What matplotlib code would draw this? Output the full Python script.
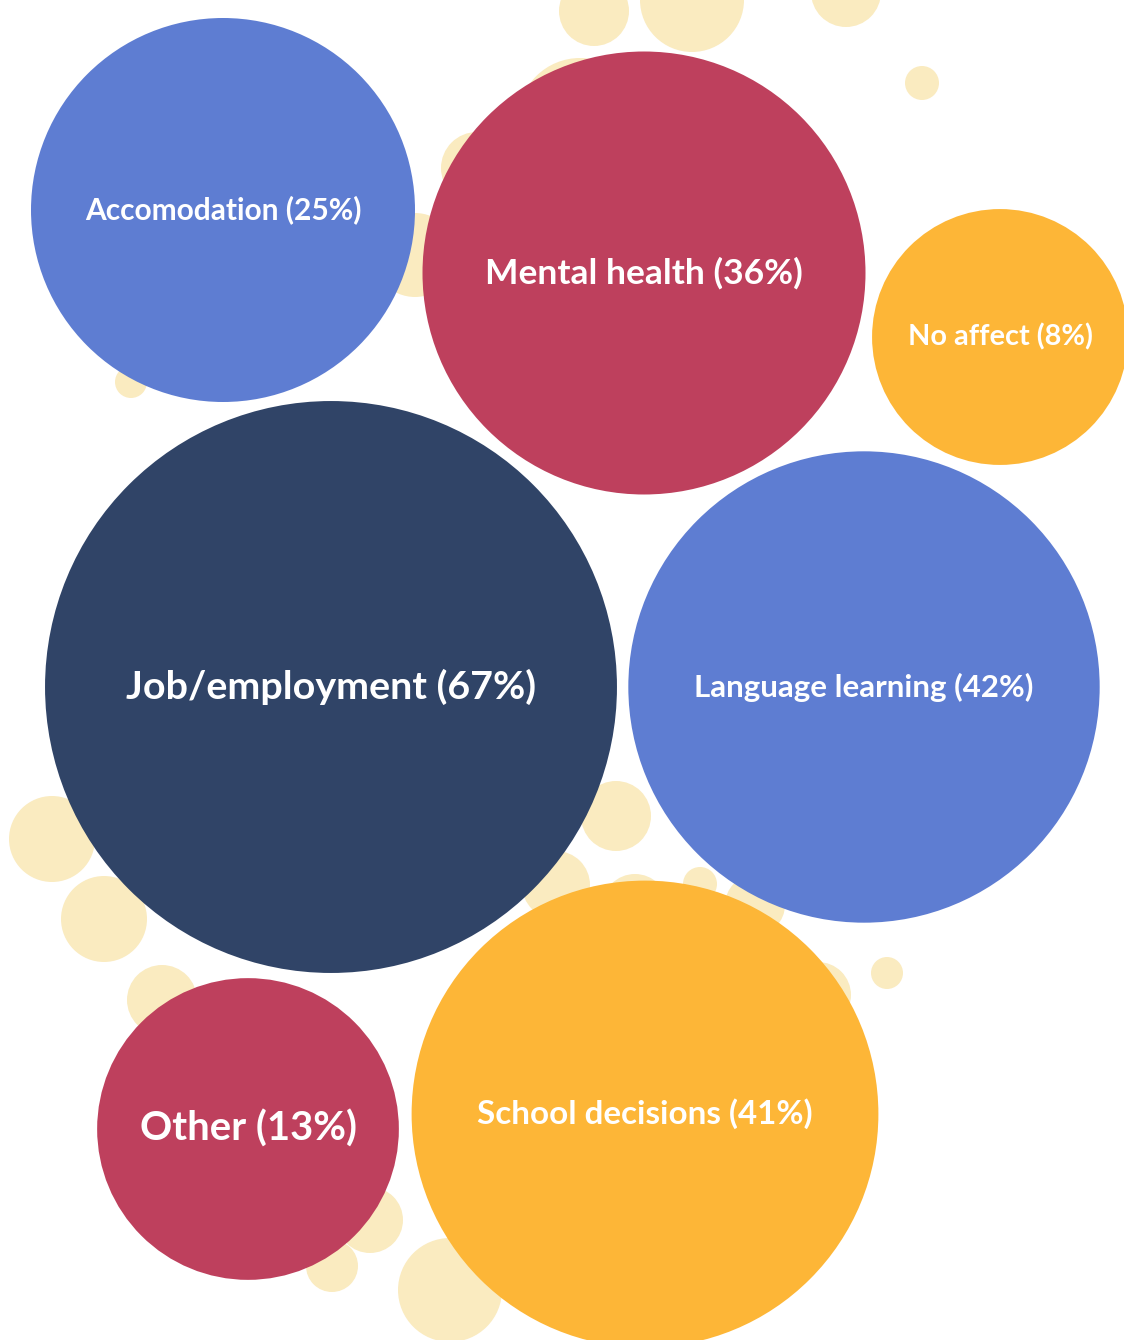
import numpy as np
import matplotlib
matplotlib.use("Agg")
import matplotlib.pyplot as plt
from matplotlib.patches import Circle

# survey answers (share of respondents)
labels = ["Accomodation", "Mental health", "No affect", "Job/employment",
          "Language learning", "Other", "School decisions"]
pcts = [25, 36, 8, 67, 42, 13, 41]

# layout of the packed bubbles (pixel space, y down)
cx = [223, 644, 1000, 331, 864, 248, 645]
cy = [210, 273, 337, 687, 687, 1129, 1114]
colors = ["#5E7DD2", "#BE405D", "#FDB637", "#304467",
          "#5E7DD2", "#BE405D", "#FDB637"]
fsizes = [21.5, 25.5, 20.8, 28.4, 22.5, 28.8, 23.9]

# decorative background dots
dots_x = [594, 692, 846, 922, 580, 477, 415, 131, 52, 104, 162, 616, 556,
          635, 700, 755, 818, 887, 370, 332, 450]
dots_y = [11, 0, -8, 83, 120, 168, 255, 382, 839, 919, 1000, 816, 885,
          907, 884, 905, 995, 973, 1220, 1266, 1290]
dots_r = [35, 52, 35, 17, 62, 36, 42, 16, 43, 43, 35, 35, 34,
          33, 17, 30, 33, 16, 33, 26, 52]

W, H = 1124, 1340
fig = plt.figure(figsize=(W / 100, H / 100), dpi=100)
ax = fig.add_axes([0, 0, 1, 1])
ax.set_xlim(0, W)
ax.set_ylim(H, 0)
ax.set_aspect("equal")
ax.axis("off")

for x, y, r in zip(dots_x, dots_y, dots_r):
    ax.add_patch(Circle((x, y), r, color="#FAEBC0", lw=0, zorder=1))

for lab, p, x, y, c, fs in zip(labels, pcts, cx, cy, colors, fsizes):
    r = 44.5 + 29.5 * np.sqrt(p)
    ax.add_patch(Circle((x, y), r, color=c, lw=0, zorder=2))
    ax.text(x, y, f"{lab} ({p}%)", ha="center", va="center", color="white",
            fontsize=fs, fontweight="bold", family=["Lato", "DejaVu Sans"],
            zorder=3)

fig.savefig("out.png", dpi=100, facecolor="white")
